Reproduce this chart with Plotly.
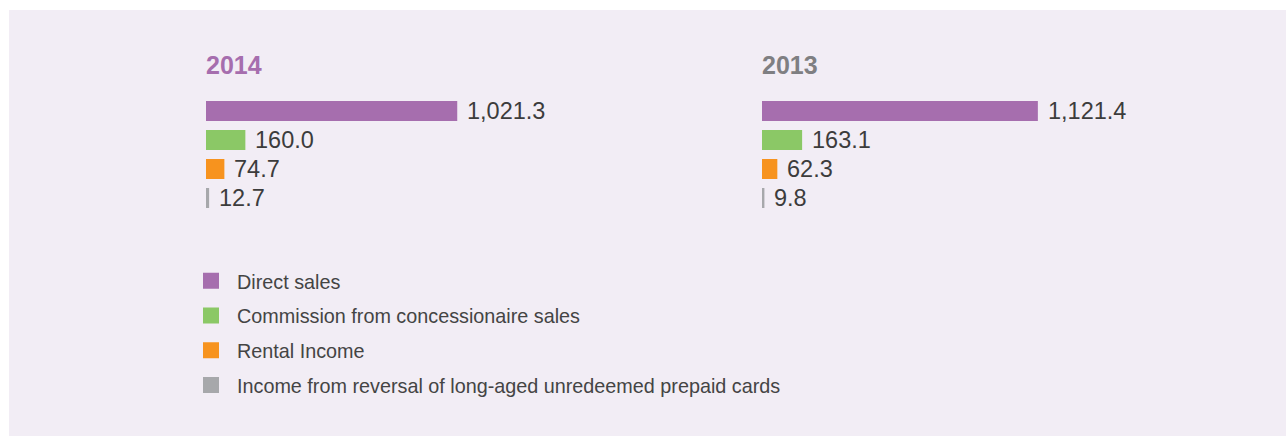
import plotly.graph_objects as go

W, H = 1286, 436

categories = [
    "Direct sales",
    "Commission from concessionaire sales",
    "Rental Income",
    "Income from reversal of long-aged unredeemed prepaid cards",
]
years = ["2014", "2013"]
values_2014 = [1021.3, 160.0, 74.7, 12.7]
values_2013 = [1121.4, 163.1, 62.3, 9.8]
labels_2014 = ["1,021.3", "160.0", "74.7", "12.7"]
labels_2013 = ["1,121.4", "163.1", "62.3", "9.8"]
colors = ["#A66EAE", "#8BC866", "#F7931E", "#A7A8AB"]
year_colors = ["#A66EAE", "#7F7F82"]

FONT = "Liberation Sans"
PX_PER_UNIT = 0.246
AX_W = 480
XMAX = AX_W / PX_PER_UNIT

def px_x(p):
    return p / W

def px_y(p):
    return 1 - p / H

fig = go.Figure()

series = [(values_2014, labels_2014, "x", "y"), (values_2013, labels_2013, "x2", "y2")]
for vals, labs, xa, ya in series:
    fig.add_trace(go.Bar(
        x=vals, y=categories, orientation="h",
        marker=dict(color=colors, line=dict(width=0)),
        width=0.69, xaxis=xa, yaxis=ya, showlegend=False,
        hoverinfo="skip",
    ))

# legend entries
for cat, col in zip(categories, colors):
    fig.add_trace(go.Scatter(
        x=[None], y=[None], mode="markers", name=cat, legendgroup=cat,
        marker=dict(symbol="square", size=17, color=col),
        xaxis="x", yaxis="y",
    ))

annotations = []
for (vals, labs, xa, ya) in series:
    for cat, v, lab in zip(categories, vals, labs):
        annotations.append(dict(
            x=v, y=cat, xref=xa, yref=ya, text=lab, showarrow=False,
            xanchor="left", yanchor="middle", xshift=8,
            font=dict(family=FONT, size=23.5, color="#3C3C3C"),
        ))

title_x = [204, 760]
for yr, col, tx in zip(years, year_colors, title_x):
    annotations.append(dict(
        x=px_x(tx), y=px_y(64.7), xref="paper", yref="paper",
        text="<b>" + yr + "</b>", showarrow=False,
        xanchor="left", yanchor="middle",
        font=dict(family=FONT, size=25, color=col),
    ))

y_dom = [px_y(212.5), px_y(96.5)]
axis_common = dict(visible=False, fixedrange=True)
fig.update_layout(
    width=W, height=H,
    margin=dict(l=0, r=0, t=0, b=0),
    paper_bgcolor="white",
    plot_bgcolor="rgba(0,0,0,0)",
    barmode="overlay",
    font=dict(family=FONT, color="#444444"),
    xaxis=dict(domain=[px_x(206), px_x(206 + AX_W)], range=[0, XMAX], anchor="y", **axis_common),
    yaxis=dict(domain=y_dom, type="category", categoryorder="array", categoryarray=categories,
               range=[3.5, -0.5], anchor="x", **axis_common),
    xaxis2=dict(domain=[px_x(762), px_x(762 + AX_W)], range=[0, XMAX], anchor="y2", **axis_common),
    yaxis2=dict(domain=y_dom, type="category", categoryorder="array", categoryarray=categories,
                range=[3.5, -0.5], anchor="x2", **axis_common),
    showlegend=True,
    legend=dict(
        x=px_x(185), y=px_y(261.5), xanchor="left", yanchor="top",
        orientation="v", traceorder="grouped", tracegroupgap=6,
        itemsizing="trace", itemwidth=42, bgcolor="rgba(0,0,0,0)", borderwidth=0,
        font=dict(family=FONT, size=19.8, color="#444444"),
        itemclick=False, itemdoubleclick=False,
    ),
    shapes=[dict(
        type="rect", xref="paper", yref="paper",
        x0=px_x(9), x1=1.0, y0=0, y1=px_y(10),
        fillcolor="#F2EDF5", line=dict(width=0), layer="below",
    )],
    annotations=annotations,
)

fig.write_html("out.html")
